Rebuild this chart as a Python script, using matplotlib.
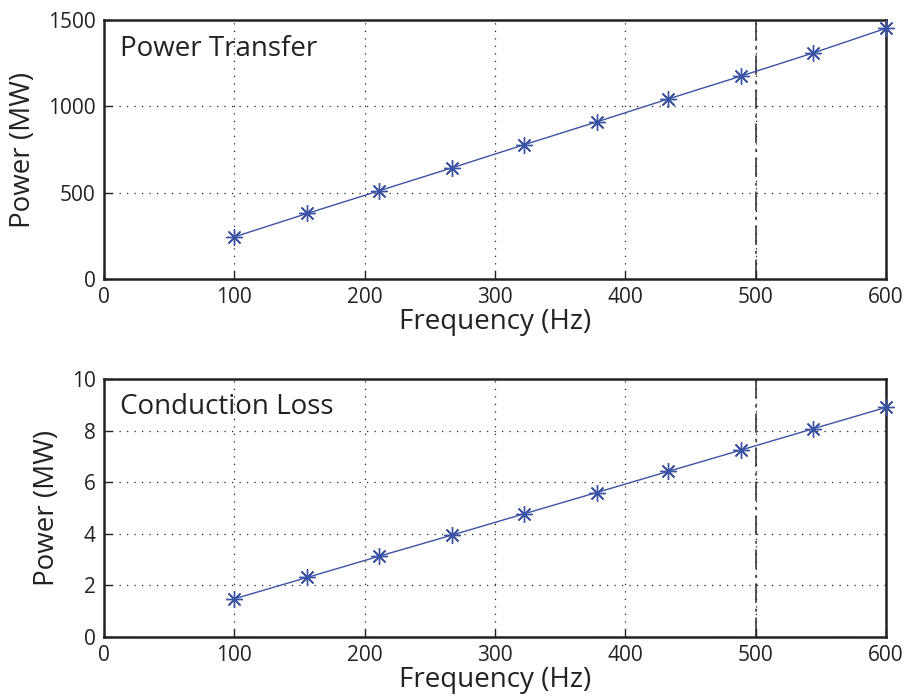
import matplotlib
matplotlib.use("Agg")
import matplotlib.pyplot as plt

plt.rcParams['font.family'] = ['Open Sans', 'DejaVu Sans']

freq = [100, 156, 211, 267, 322, 378, 433, 489, 544, 600]
power_transfer = [244, 380, 511, 644, 777, 910, 1043, 1176, 1309, 1452]
conduction_loss = [1.48, 2.31, 3.13, 3.95, 4.77, 5.60, 6.42, 7.25, 8.07, 8.90]

x_ticks = [0, 100, 200, 300, 400, 500, 600]
top_yticks = [0, 500, 1000, 1500]
bot_yticks = [0, 2, 4, 6, 8, 10]
titles = ["Power Transfer", "Conduction Loss"]
line_color = "#3a53a4"

fig = plt.figure(figsize=(9.06, 7.0), dpi=100)
ax1 = fig.add_axes([0.1148, 0.6014, 0.8632, 0.37])
ax2 = fig.add_axes([0.1148, 0.09, 0.8632, 0.3686])

for ax, y, yt, title in [(ax1, power_transfer, top_yticks, titles[0]),
                         (ax2, conduction_loss, bot_yticks, titles[1])]:
    ax.plot(freq, y, color=line_color, lw=1.0, marker=(8, 2, 0), ms=12, mew=1.0,
            clip_on=False, zorder=3)
    ax.axvline(500, color="#555555", lw=1.4, linestyle=(0, (10, 3, 1.5, 3)), zorder=1)
    ax.set_xlim(0, 600)
    ax.set_ylim(yt[0], yt[-1])
    ax.set_xticks(x_ticks)
    ax.set_yticks(yt)
    ax.grid(True, linestyle=(0, (1, 5)), color="#222222", lw=0.9)
    ax.tick_params(direction="in", labelsize=15, length=6, width=1, colors="#222222", pad=6)
    for s in ax.spines.values():
        s.set_linewidth(1.8)
        s.set_color("#222222")
    ax.set_xlabel("Frequency (Hz)", fontsize=20, labelpad=0, color="#222222")
    ax.set_ylabel("Power (MW)", fontsize=20, labelpad=8, color="#222222")
    ax.text(0.02, 0.89, title, transform=ax.transAxes, fontsize=20, va="center", ha="left", color="#222222")

fig.savefig("out.png", dpi=100)
